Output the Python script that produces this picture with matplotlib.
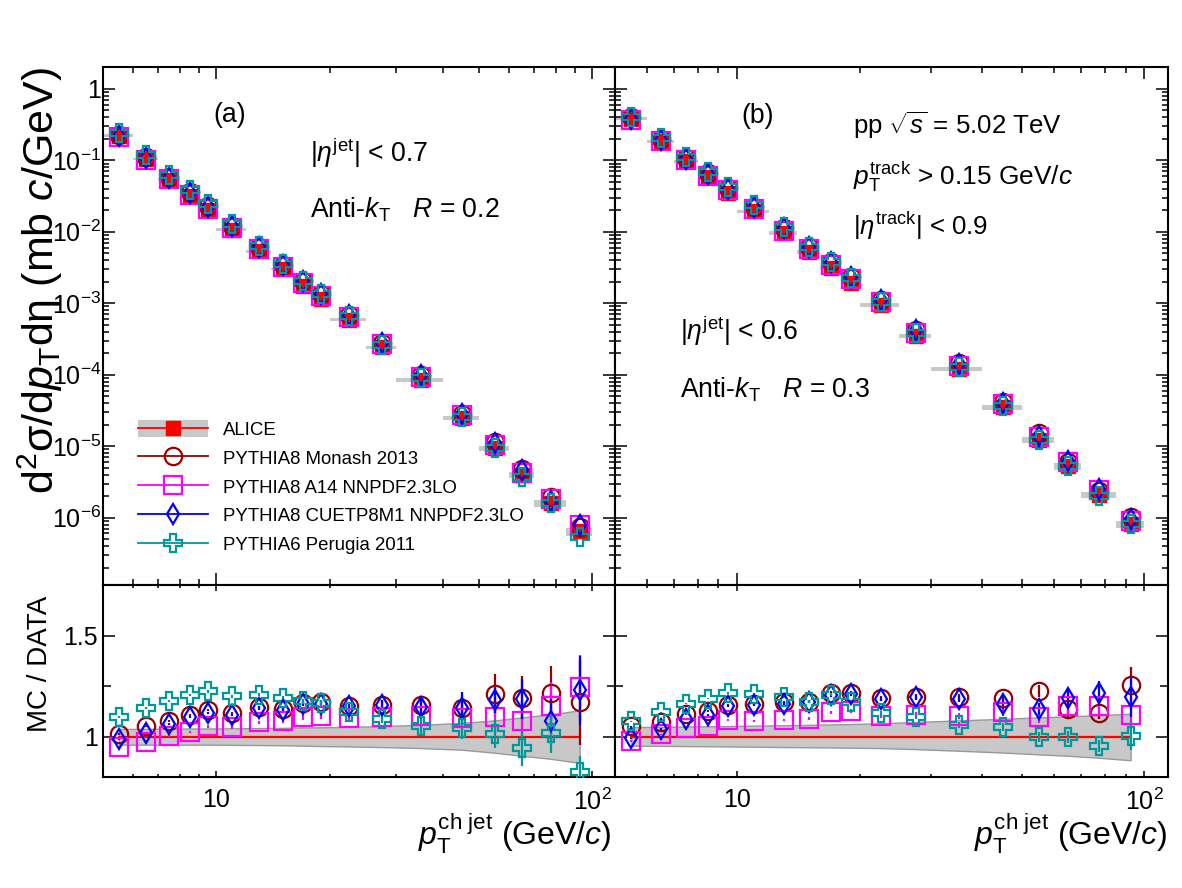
import numpy as np
import matplotlib
matplotlib.use('Agg')
import matplotlib.pyplot as plt
from matplotlib.ticker import FixedLocator, NullFormatter, FuncFormatter, LogLocator
from matplotlib.patches import Patch
from matplotlib.lines import Line2D

plt.rcParams['font.family'] = ['Liberation Sans', 'DejaVu Sans']
plt.rcParams['mathtext.fontset'] = 'custom'
plt.rcParams['mathtext.rm'] = 'Liberation Sans'
plt.rcParams['mathtext.it'] = 'Liberation Sans:italic'
plt.rcParams['mathtext.bf'] = 'Liberation Sans:bold'
plt.rcParams['mathtext.sf'] = 'Liberation Sans'

# ---------------- data ----------------
bin_lo = [5, 6, 7, 8, 9, 10, 12, 14, 16, 18, 20, 25, 30, 40, 50, 60, 70, 85]
bin_hi = [6, 7, 8, 9, 10, 12, 14, 16, 18, 20, 25, 30, 40, 50, 60, 70, 85, 100]

# ALICE cross sections (mb c/GeV)
alice_r02 = [0.222, 0.105, 0.0537, 0.0321, 0.0200, 0.0107, 5.3e-3, 3.0e-3, 1.76e-3, 1.15e-3,
             5.9e-4, 2.43e-4, 8.5e-5, 2.47e-5, 9.4e-6, 3.96e-6, 1.59e-6, 6.4e-7]
alice_r03 = [0.38, 0.185, 0.097, 0.058, 0.0349, 0.0194, 9.6e-3, 5.2e-3, 3.1e-3, 1.92e-3,
             9.3e-4, 3.5e-4, 1.2e-4, 3.5e-5, 1.23e-5, 5.2e-6, 2.08e-6, 8.1e-7]

# systematic band (relative) of data
band_up_r02 = [1.038, 1.038, 1.039, 1.040, 1.040, 1.041, 1.042, 1.043, 1.045, 1.046,
               1.048, 1.052, 1.058, 1.068, 1.080, 1.095, 1.110, 1.130]
band_lo_r02 = [0.960, 0.960, 0.960, 0.960, 0.960, 0.959, 0.958, 0.957, 0.955, 0.953,
               0.951, 0.948, 0.943, 0.935, 0.920, 0.905, 0.890, 0.870]
band_up_r03 = [1.047, 1.048, 1.050, 1.051, 1.052, 1.054, 1.056, 1.058, 1.060, 1.062,
               1.066, 1.072, 1.080, 1.088, 1.095, 1.100, 1.106, 1.113]
band_lo_r03 = [0.955, 0.954, 0.953, 0.952, 0.951, 0.950, 0.948, 0.947, 0.946, 0.945,
               0.943, 0.938, 0.930, 0.921, 0.912, 0.905, 0.895, 0.883]

# MC / DATA ratios, R = 0.2
monash_r02 = [1.013, 1.050, 1.075, 1.108, 1.132, 1.116, 1.144, 1.136, 1.166, 1.169,
              1.149, 1.157, 1.157, 1.141, 1.212, 1.190, 1.215, 1.169]
a14_r02 = [0.950, 0.975, 1.003, 1.025, 1.050, 1.045, 1.070, 1.075, 1.096, 1.103,
           1.094, 1.099, 1.103, 1.094, 1.099, 1.075, 1.152, 1.243]
cuetp_r02 = [0.987, 1.020, 1.063, 1.096, 1.116, 1.108, 1.141, 1.132, 1.161, 1.162,
             1.152, 1.154, 1.146, 1.141, 1.179, 1.185, 1.075, 1.228]
perugia_r02 = [1.096, 1.140, 1.174, 1.207, 1.224, 1.199, 1.207, 1.190, 1.174, 1.166,
               1.124, 1.086, 1.053, 1.041, 1.013, 0.942, 1.017, 0.826]

monash_err_r02 = [0.004, 0.004, 0.005, 0.005, 0.006, 0.006, 0.008, 0.010, 0.012, 0.014,
                  0.018, 0.025, 0.040, 0.065, 0.100, 0.110, 0.135, 0.210]
a14_err_r02 = [0.004, 0.004, 0.005, 0.005, 0.006, 0.006, 0.008, 0.010, 0.012, 0.014,
               0.018, 0.025, 0.040, 0.060, 0.090, 0.100, 0.120, 0.160]
cuetp_err_r02 = [0.004, 0.004, 0.005, 0.005, 0.006, 0.006, 0.008, 0.010, 0.012, 0.014,
                 0.018, 0.025, 0.040, 0.080, 0.060, 0.100, 0.110, 0.170]
perugia_err_r02 = [0.004, 0.004, 0.005, 0.005, 0.006, 0.006, 0.008, 0.010, 0.012, 0.014,
                   0.015, 0.020, 0.040, 0.055, 0.070, 0.090, 0.100, 0.080]

# MC / DATA ratios, R = 0.3
monash_r03 = [1.050, 1.070, 1.112, 1.128, 1.158, 1.162, 1.170, 1.172, 1.217, 1.217,
              1.192, 1.197, 1.197, 1.192, 1.225, 1.137, 1.117, 1.253]
a14_r03 = [0.978, 1.012, 1.042, 1.053, 1.083, 1.078, 1.083, 1.088, 1.120, 1.125,
           1.103, 1.108, 1.100, 1.120, 1.097, 1.153, 1.153, 1.108]
cuetp_r03 = [0.992, 1.038, 1.087, 1.108, 1.150, 1.155, 1.163, 1.172, 1.205, 1.212,
             1.187, 1.195, 1.188, 1.163, 1.137, 1.192, 1.217, 1.197]
perugia_r03 = [1.075, 1.120, 1.163, 1.188, 1.217, 1.213, 1.197, 1.172, 1.208, 1.172,
               1.117, 1.097, 1.058, 1.047, 1.000, 1.000, 0.953, 1.005]

monash_err_r03 = [0.003, 0.003, 0.004, 0.004, 0.005, 0.005, 0.006, 0.007, 0.008, 0.009,
                  0.010, 0.012, 0.015, 0.020, 0.030, 0.040, 0.030, 0.090]
a14_err_r03 = [0.003, 0.003, 0.004, 0.004, 0.005, 0.005, 0.006, 0.007, 0.008, 0.009,
               0.010, 0.012, 0.015, 0.020, 0.030, 0.040, 0.040, 0.060]
cuetp_err_r03 = [0.003, 0.003, 0.004, 0.004, 0.005, 0.005, 0.006, 0.007, 0.008, 0.009,
                 0.010, 0.012, 0.015, 0.025, 0.030, 0.050, 0.060, 0.100]
perugia_err_r03 = [0.003, 0.003, 0.004, 0.004, 0.005, 0.005, 0.006, 0.007, 0.008, 0.009,
                   0.010, 0.012, 0.015, 0.020, 0.025, 0.030, 0.030, 0.070]

labels = ['ALICE', 'PYTHIA8 Monash 2013', 'PYTHIA8 A14 NNPDF2.3LO',
          'PYTHIA8 CUETP8M1 NNPDF2.3LO', 'PYTHIA6 Perugia 2011']

# ---------------- styles ----------------
C_DATA = '#ff0000'
C_BAND = '#c8c8c8'
mc_styles = [  # color, marker, markersize
    ('#990000', 'o', 12.5),
    ('#ff00ff', 's', 12.5),
    ('#0000ff', 'd', 10.5),
    ('#009999', 'P', 13.0),
]

W, H = 1182, 888
fig = plt.figure(figsize=(W / 100, H / 100), dpi=100)


def rect(x0, x1, y0, y1):
    return [x0 / W, 1 - y1 / H, (x1 - x0) / W, (y1 - y0) / H]


XL, XM, XR = 103.3, 614.5, 1168.3
YT, YM, YB = 67.3, 585.0, 777.0
axA = fig.add_axes(rect(XL, XM, YT, YM))
axB = fig.add_axes(rect(XM, XR, YT, YM))
rA = fig.add_axes(rect(XL, XM, YM, YB))
rB = fig.add_axes(rect(XM, XR, YM, YB))

lo = np.array(bin_lo, float)
hi = np.array(bin_hi, float)
centers = 0.5 * (lo + hi)


def draw_top(ax, data, band_up, band_lo, ratios):
    data = np.array(data)
    bu = np.array(band_up)
    bl = np.array(band_lo)
    ax.bar(lo, data * (bu - bl), bottom=data * bl, width=hi - lo, align='edge',
           color=C_BAND, lw=0, zorder=1)
    ax.plot(centers, data, ls='none', marker='s', ms=10, color=C_DATA, zorder=3)
    for vals, (c, m, ms) in zip(ratios, mc_styles):
        ax.plot(centers, data * np.array(vals), ls='none', marker=m, ms=ms, mfc='none',
                mec=c, mew=1.6, zorder=4)


def draw_ratio(ax, band_up, band_lo, ratios, errs):
    ax.fill_between(centers, band_lo, band_up, facecolor=C_BAND, edgecolor='#999999',
                    lw=1.0, zorder=1)
    ax.plot(centers, np.ones_like(centers), color=C_DATA, lw=1.6, zorder=2)
    for vals, err, (c, m, ms) in zip(ratios, errs, mc_styles):
        ax.errorbar(centers, vals, yerr=err, ls='none', marker=m, ms=ms, mfc='none',
                    mec=c, mew=1.6, ecolor=c, elinewidth=1.6, capsize=0, zorder=4)


draw_top(axA, alice_r02, band_up_r02, band_lo_r02,
         [monash_r02, a14_r02, cuetp_r02, perugia_r02])
draw_top(axB, alice_r03, band_up_r03, band_lo_r03,
         [monash_r03, a14_r03, cuetp_r03, perugia_r03])
draw_ratio(rA, band_up_r02, band_lo_r02,
           [monash_r02, a14_r02, cuetp_r02, perugia_r02],
           [monash_err_r02, a14_err_r02, cuetp_err_r02, perugia_err_r02])
draw_ratio(rB, band_up_r03, band_lo_r03,
           [monash_r03, a14_r03, cuetp_r03, perugia_r03],
           [monash_err_r03, a14_err_r03, cuetp_err_r03, perugia_err_r03])

XLIM = (5.0, 114.5)
TICK_FS = 18


def ylog_fmt(v, pos):
    e = int(round(np.log10(v)))
    return '1' if e == 0 else r'$\mathregular{10^{%d}}$' % e


def x_fmt(v, pos):
    e = int(round(np.log10(v)))
    return '10' if e == 1 else r'$\mathregular{10^{%d}}$' % e


def ratio_fmt(v, pos):
    return '%g' % v


for ax in (axA, axB, rA, rB):
    ax.set_xscale('log')
    ax.set_xlim(*XLIM)
    ax.xaxis.set_major_locator(FixedLocator([10, 100]))
    ax.xaxis.set_minor_locator(FixedLocator([5, 6, 7, 8, 9, 20, 30, 40, 50, 60, 70, 80, 90]))
    ax.xaxis.set_minor_formatter(NullFormatter())
    for s in ax.spines.values():
        s.set_linewidth(1.5)
    ax.tick_params(which='both', direction='in', top=True, right=True, width=1.1,
                   labelsize=TICK_FS)

for ax in (axA, axB):
    ax.set_yscale('log')
    ax.set_ylim(1.14e-7, 2.0)
    ax.yaxis.set_major_locator(LogLocator(base=10, numticks=20))
    ax.yaxis.set_minor_locator(LogLocator(base=10, subs=np.arange(2, 10), numticks=20))
    ax.yaxis.set_minor_formatter(NullFormatter())
    ax.yaxis.set_major_formatter(FuncFormatter(ylog_fmt))
    ax.tick_params(which='major', length=8.6)
    ax.tick_params(which='minor', length=4.3)
    ax.tick_params(labelbottom=False)
    ax.tick_params(axis='y', pad=1.5)

for ax in (rA, rB):
    ax.set_ylim(0.8, 1.75)
    ax.yaxis.set_major_locator(FixedLocator([1.0, 1.5]))
    ax.yaxis.set_minor_locator(FixedLocator([1.25]))
    ax.yaxis.set_major_formatter(FuncFormatter(ratio_fmt))
    ax.xaxis.set_major_formatter(FuncFormatter(x_fmt))
    ax.tick_params(axis='x', which='major', length=4.5, pad=8)
    ax.tick_params(axis='x', which='minor', length=2.3)
    ax.tick_params(axis='y', which='major', length=8.6, pad=4)
    ax.tick_params(axis='y', which='minor', length=5.5)

axB.tick_params(labelleft=False)
rB.tick_params(labelleft=False)

# ---------------- legend ----------------
handles = [(Patch(facecolor=C_BAND, edgecolor='none'),
            Line2D([], [], color=C_DATA, marker='s', ms=10, lw=1.3))]
for c, m, ms in mc_styles:
    handles.append(Line2D([], [], color=c, marker=m, ms=ms, mfc='none', mew=1.6, lw=1.3))
axA.legend(handles, labels, loc='upper left', bbox_to_anchor=(0.068, 0.318),
           frameon=False, fontsize=13.4, handlelength=3.75, handleheight=1.0,
           handletextpad=0.8, labelspacing=0.54, borderpad=0, borderaxespad=0)


# ---------------- texts ----------------
def ftext(x, y, s, **kw):
    fig.text(x / W, 1 - y / H, s, **kw)


ANN_FS = 19.2
ftext(230, 115, '(a)', ha='center', va='center', fontsize=ANN_FS)
ftext(310, 162, r'$|\eta^{\mathrm{jet}}|$ < 0.7', ha='left', va='baseline', fontsize=ANN_FS)
ftext(310, 217, r'Anti-$k_{\mathrm{T}}$   $R$ = 0.2', ha='left', va='baseline', fontsize=ANN_FS)

ftext(758, 116, '(b)', ha='center', va='center', fontsize=ANN_FS)
ftext(853, 134, r'pp $\sqrt{s}$ = 5.02 TeV', ha='left', va='baseline', fontsize=ANN_FS - 0.6)
ftext(853, 185, r'$p_{\mathrm{T}}^{\mathrm{track}}$ > 0.15 GeV/$c$', ha='left', va='baseline',
      fontsize=ANN_FS - 0.3)
ftext(853, 235, r'$|\eta^{\mathrm{track}}|$ < 0.9', ha='left', va='baseline', fontsize=ANN_FS - 0.6)
ftext(680, 340, r'$|\eta^{\mathrm{jet}}|$ < 0.6', ha='left', va='baseline', fontsize=ANN_FS)
ftext(680, 397, r'Anti-$k_{\mathrm{T}}$   $R$ = 0.3', ha='left', va='baseline', fontsize=ANN_FS)

ftext(40, 67, r'd$^{2}\mathrm{\sigma}$/d$p_{\mathrm{T}}$d$\mathrm{\eta}$ (mb $c$/GeV)',
      rotation=90, ha='center', va='top', fontsize=31)
ftext(40, 664, 'MC / DATA', rotation=90, ha='center', va='center', fontsize=20)

xtitle = r'$p_{\mathrm{T}}^{\mathrm{ch\ jet}}$ (GeV/$c$)'
ftext(612, 845, xtitle, ha='right', va='baseline', fontsize=23)
ftext(1168, 845, xtitle, ha='right', va='baseline', fontsize=23)

fig.savefig('out.png', dpi=100)
